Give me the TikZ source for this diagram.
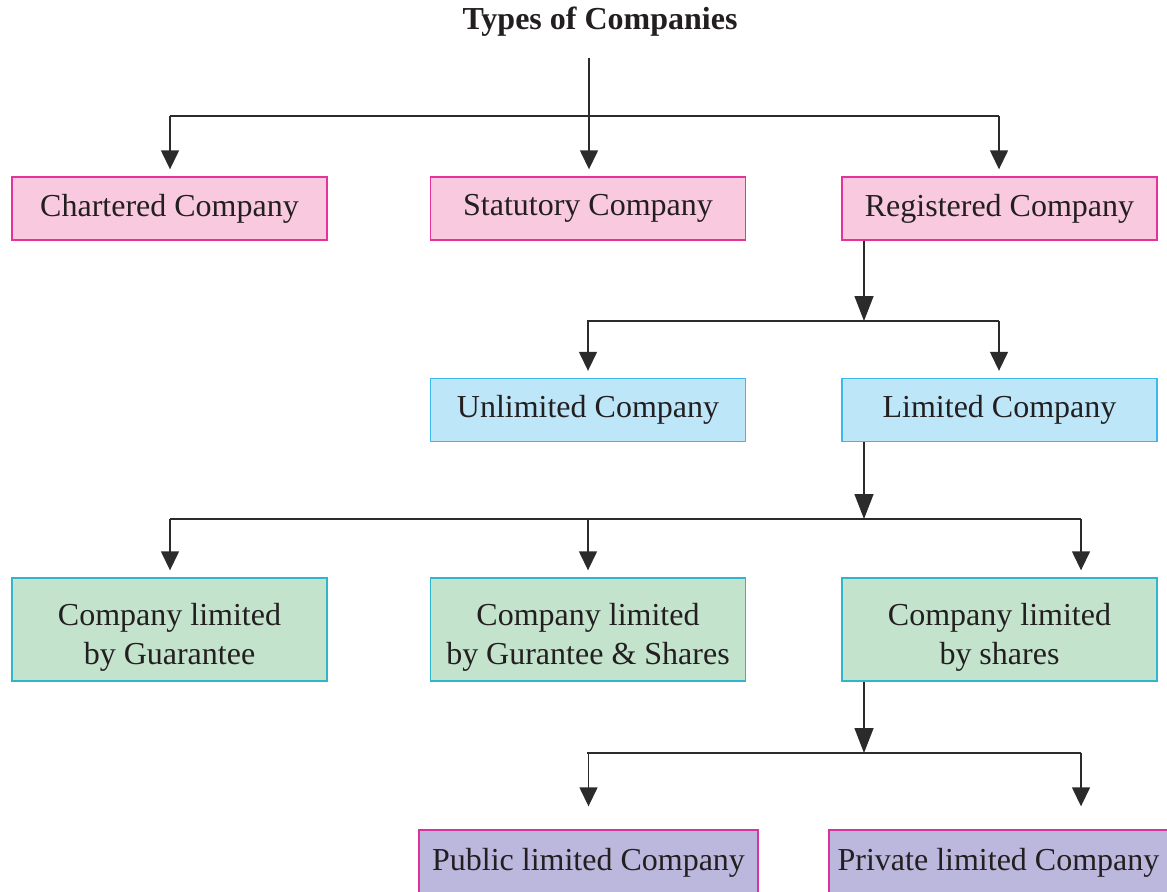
\documentclass[tikz,border=0pt]{standalone}
\usepackage{fontspec}
\setmainfont{Liberation Serif}
\usetikzlibrary{arrows.meta}
\definecolor{txt}{HTML}{231F20}
\definecolor{lnc}{HTML}{2B2B2B}
\definecolor{pinkf}{HTML}{F9CADF}
\definecolor{pinkd}{HTML}{E6339A}
\definecolor{bluef}{HTML}{BDE6F9}
\definecolor{blued}{HTML}{3CB9EA}
\definecolor{greenf}{HTML}{C3E3CC}
\definecolor{greend}{HTML}{30B6CC}
\definecolor{purpf}{HTML}{BCB7DC}
\definecolor{purpd}{HTML}{D6349A}
\tikzset{
  box/.style={draw, line width=0.7pt, minimum width=157.5pt, minimum height=31.5pt,
    inner sep=0pt, align=center, text=txt, font=\fontsize{16}{19.5}\selectfont},
  pinkbox/.style={box, fill=pinkf, draw=pinkd},
  bluebox/.style={box, fill=bluef, draw=blued},
  greenbox/.style={box, fill=greenf, draw=greend, minimum height=51.5pt},
  gtext/.style={inner sep=0pt, align=center, text=txt, font=\fontsize{16}{19.5}\selectfont},
  purpbox/.style={box, fill=purpf, draw=purpd, minimum width=169.5pt, minimum height=33pt},
  ln/.style={draw=lnc, line width=0.7pt},
  arr/.style={ln, -{Triangle[length=9.5pt,width=9pt]}, shorten >=3.5pt},
  arrbig/.style={ln, -{Triangle[length=12.5pt,width=9.5pt]}},
}
\begin{document}
\begin{tikzpicture}[x=0.5pt,y=-0.5pt]
\useasboundingbox (0,0) rectangle (1167,891);
\clip (0,0) rectangle (1167,891);
% title
\node[text=txt, font=\fontsize{16}{19.5}\selectfont\bfseries] (title) at (600,22) {Types of Companies};
% row 1
\node[pinkbox] (chart) at (169.5,208.5) {Chartered Company};
\node[pinkbox] (stat) at (588,208.5) {Statutory Company};
\node[pinkbox] (reg) at (999.5,208.5) {Registered Company};
% row 2
\node[bluebox] (unl) at (588,410) {Unlimited Company};
\node[bluebox] (lim) at (999.5,410) {Limited Company};
% row 3
\node[greenbox] (g1) at (169.5,629.5) {};
\node[greenbox] (g2) at (588,629.5) {};
\node[greenbox] (g3) at (999.5,629.5) {};
\node[gtext] (g1t) at (169.5,637.5) {Company limited\\by Guarantee};
\node[gtext] (g2t) at (588,637.5) {Company limited\\by Gurantee \& Shares};
\node[gtext] (g3t) at (999.5,637.5) {Company limited\\by shares};
% row 4
\node[purpbox] (pub) at (588.5,863) {Public limited Company};
\node[purpbox] (priv) at (998.5,863) {Private limited Company};
% junctions
\coordinate (t0) at (589,58);
\coordinate (h1) at (589,116);
\coordinate (h1l) at (170,116);
\coordinate (h1r) at (999,116);
\coordinate (h2) at (864,321);
\coordinate (h2l) at (587,321);
\coordinate (h2r) at (999,321);
\coordinate (h3) at (864,519);
\coordinate (h3l) at (170,519);
\coordinate (h3r) at (1081,519);
\coordinate (h4) at (864,753);
\coordinate (h4l) at (587,753);
\coordinate (h4r) at (1081,753);
% connectors level 1
\draw[ln] (t0) -- (h1);
\draw[ln] (h1l) -- (h1r);
\draw[arr] (h1l) -- (h1l |- chart.north);
\draw[arr] (h1) -- (h1 |- stat.north);
\draw[arr] (h1r) -- (h1r |- reg.north);
% level 2
\draw[arrbig] (h2 |- reg.south) -- (h2);
\draw[ln] (h2l) -- (h2r);
\draw[arr] (unl.north |- h2l) -- (unl.north);
\draw[arr] (h2r) -- (h2r |- lim.north);
% level 3
\draw[arrbig] (h3 |- lim.south) -- (h3);
\draw[ln] (h3l) -- (h3r);
\draw[arr] (h3l) -- (h3l |- g1.north);
\draw[arr] (g2.north |- h3l) -- (g2.north);
\draw[arr] (h3r) -- (h3r |- g3.north);
% level 4
\draw[arrbig] (h4 |- g3.south) -- (h4);
\draw[ln] (h4l) -- (h4r);
\draw[arr, shorten >=11.5pt] (pub.north |- h4l) -- (pub.north);
\draw[arr, shorten >=11.5pt] (h4r) -- (h4r |- priv.north);
\end{tikzpicture}
\end{document}
